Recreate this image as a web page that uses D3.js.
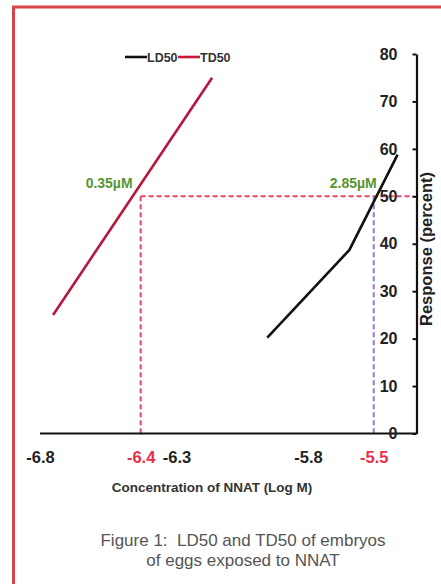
<!DOCTYPE html>
<html>
<head>
<meta charset="utf-8">
<script src="https://cdn.jsdelivr.net/npm/d3@7"></script>
<style>
  body { margin: 0; background: #fff; }
  text { font-family: "Liberation Sans", Arial, sans-serif; }
</style>
</head>
<body>
<div id="chart"></div>
<script>
// values
var seriesNames = ["LD50", "TD50"];
var ld50X = [-5.911, -5.594, -5.408];
var ld50Y = [20.2, 38.7, 58.8];
var td50X = [-6.738, -6.124];
var td50Y = [25, 75];
var xTickValues = [-6.8, -6.4, -6.3, -5.8, -5.5];
var xTickRed = [-6.4, -5.5];
var yTickValues = [0, 10, 20, 30, 40, 50, 60, 70, 80];
var markX = [-6.4, -5.5];
var markY = 50;
var markLabels = ["0.35µM", "2.85µM"];

var svgWidth = 441;
var svgHeight = 584;

var svg = d3.select("#chart")
  .append("svg")
  .attr("width", svgWidth)
  .attr("height", svgHeight);

// red frame (only top and left edges are in view)
svg.append("rect")
  .attr("x", 13.5)
  .attr("y", 7)
  .attr("width", 500)
  .attr("height", 700)
  .attr("fill", "none")
  .attr("stroke", "#d9434a")
  .attr("stroke-width", 3);

var xScale = d3.scaleLinear()
  .domain([-6.8, -5.335])
  .range([37, 416.5]);

var yScale = d3.scaleLinear()
  .domain([0, 80])
  .range([433.5, 54]);

// dashed guides
svg.append("line")
  .attr("x1", xScale(markX[0])).attr("x2", xScale.range()[1] - 3)
  .attr("y1", yScale(markY)).attr("y2", yScale(markY))
  .attr("stroke", "#e6486a").attr("stroke-width", 2)
  .attr("stroke-dasharray", "5,3");

svg.append("line")
  .attr("x1", xScale(markX[0])).attr("x2", xScale(markX[0]))
  .attr("y1", yScale(markY)).attr("y2", yScale(0))
  .attr("stroke", "#e6486a").attr("stroke-width", 2)
  .attr("stroke-dasharray", "5,3");

svg.append("line")
  .attr("x1", xScale(markX[1])).attr("x2", xScale(markX[1]))
  .attr("y1", yScale(markY)).attr("y2", yScale(0))
  .attr("stroke", "#8a7ae8").attr("stroke-width", 2)
  .attr("stroke-dasharray", "5,3");

// x axis
var bottomAxis = d3.axisBottom(xScale)
  .tickValues(xTickValues)
  .tickSize(0)
  .tickPadding(18)
  .tickFormat(d3.format(".1f"));

// the labels in the original sit a little off the linear positions
var labelNudge = { "-6.8": 3, "-6.3": 10, "-5.8": 12 };

var xAxisG = svg.append("g")
  .attr("transform", `translate(0, ${yScale(0)})`)
  .call(bottomAxis);
xAxisG.select(".domain").attr("stroke", "#111").attr("stroke-width", 2.2)
  .attr("d", `M40,0H${xScale.range()[1]}`);
xAxisG.selectAll("text")
  .attr("font-size", 16.5)
  .attr("font-weight", "bold")
  .attr("font-family", "Liberation Sans, Arial, sans-serif")
  .attr("fill", d => xTickRed.includes(d) ? "#e8304a" : "#222")
  .attr("dx", d => labelNudge[d.toFixed(1)] || 0)
  .text(d => d.toFixed(1));

// y axis on the right edge, labels to its left
var leftAxis = d3.axisLeft(yScale)
  .tickValues(yTickValues)
  .tickSize(4)
  .tickPadding(15)
  .tickSizeOuter(0);

var yAxisG = svg.append("g")
  .attr("transform", `translate(${xScale.range()[1]}, 0)`)
  .call(leftAxis);
yAxisG.select(".domain").attr("stroke", "#111").attr("stroke-width", 2.2);
yAxisG.selectAll(".tick line").attr("stroke", "#111").attr("stroke-width", 2);
yAxisG.selectAll("text")
  .attr("font-size", 16)
  .attr("font-weight", "bold")
  .attr("font-family", "Liberation Sans, Arial, sans-serif")
  .attr("fill", "#222");

// lines
var line = d3.line()
  .x(d => xScale(d[0]))
  .y(d => yScale(d[1]));

svg.append("path")
  .datum(td50X.map((x, i) => [x, td50Y[i]]))
  .attr("d", line)
  .attr("fill", "none")
  .attr("stroke", "#b8173c")
  .attr("stroke-width", 2.6);

svg.append("path")
  .datum(ld50X.map((x, i) => [x, ld50Y[i]]))
  .attr("d", line)
  .attr("fill", "none")
  .attr("stroke", "#111")
  .attr("stroke-width", 2.6);

// 50% labels
svg.selectAll(".mark")
  .data(markLabels)
  .join("text")
  .attr("class", "mark")
  .attr("x", (d, i) => xScale(markX[i]) + (i === 0 ? -8 : 3))
  .attr("y", yScale(markY) - 8)
  .attr("text-anchor", "end")
  .attr("font-size", 14)
  .attr("font-weight", "bold")
  .attr("fill", "#5a9530")
  .text(d => d);

// legend
var legendColors = ["#111", "#c8173c"];
var legendX = [125, 178];
var legend = svg.selectAll(".legend")
  .data(seriesNames)
  .join("g")
  .attr("class", "legend")
  .attr("transform", (d, i) => `translate(${legendX[i]}, 57)`);
legend.append("line")
  .attr("x1", 0).attr("x2", 22)
  .attr("stroke", (d, i) => legendColors[i])
  .attr("stroke-width", 2.6);
legend.append("text")
  .attr("x", 22)
  .attr("dy", "0.36em")
  .attr("font-size", 12.5)
  .attr("font-weight", "bold")
  .attr("fill", "#333")
  .text(d => d);

// axis titles
svg.append("text")
  .attr("x", 212)
  .attr("y", 492)
  .attr("text-anchor", "middle")
  .attr("font-size", 13.5)
  .attr("font-weight", "bold")
  .attr("fill", "#333")
  .text("Concentration of NNAT (Log M)");

svg.append("text")
  .attr("transform", "translate(432, 249) rotate(-90)")
  .attr("text-anchor", "middle")
  .attr("font-size", 16.5)
  .attr("font-weight", "bold")
  .attr("fill", "#222")
  .text("Response (percent)");

// caption
var caption = svg.append("text")
  .attr("text-anchor", "middle")
  .attr("font-size", 17)
  .attr("fill", "#555");
caption.append("tspan").attr("x", 243).attr("y", 546)
  .attr("xml:space", "preserve")
  .text("Figure 1:  LD50 and TD50 of embryos");
caption.append("tspan").attr("x", 243).attr("y", 566)
  .text("of eggs exposed to NNAT");
</script>
</body>
</html>
